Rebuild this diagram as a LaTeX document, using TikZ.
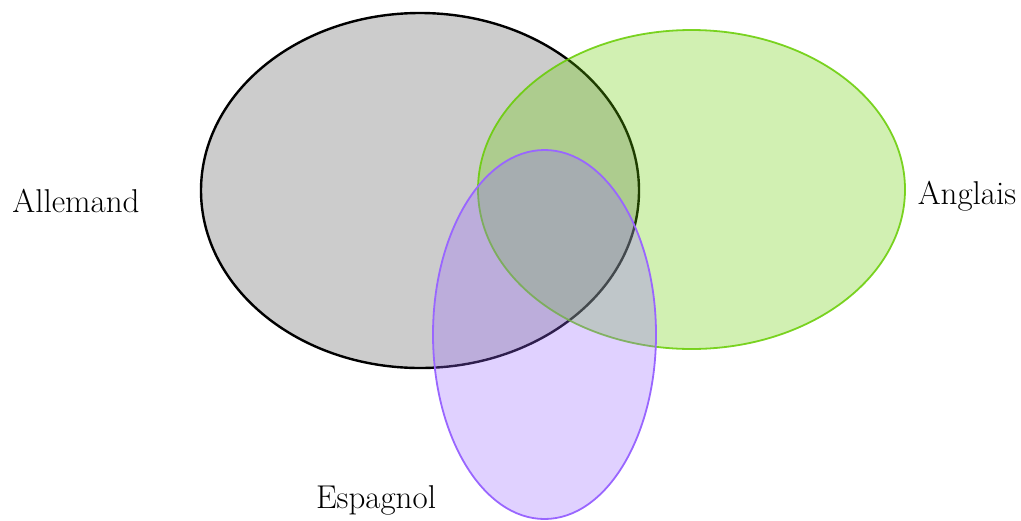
\documentclass[tikz,border=0pt]{standalone}
\usetikzlibrary{shapes.geometric}
\definecolor{setgreen}{HTML}{66CC00}
\definecolor{setpurple}{HTML}{9966FF}
\tikzset{
  setshape/.style={ellipse, inner sep=0pt, outer sep=0pt},
  label/.style={anchor=base, inner sep=0pt, font=\fontsize{16.5}{19}\selectfont},
}
\begin{document}
\begin{tikzpicture}[x=0.5pt,y=-0.5pt]
\useasboundingbox (0,0) rectangle (1021,520);
\node[setshape, draw=black, line width=1.2pt, fill=black!20,
      minimum width=438pt*0.5, minimum height=355pt*0.5] (allemand) at (420,190.5) {};
\node[setshape, draw=setgreen, line width=0.9pt, fill=setgreen, fill opacity=0.3, draw opacity=0.85,
      minimum width=427pt*0.5, minimum height=319pt*0.5] (anglais) at (691.5,189.5) {};
\node[setshape, draw=setpurple, line width=0.9pt, fill=setpurple, fill opacity=0.3,
      minimum width=223pt*0.5, minimum height=369pt*0.5] (espagnol) at (544.5,334.5) {};
\node[label] (tA) at (76,212) {Allemand};
\node[label] (tB) at (967,204) {Anglais};
\node[label] (tC) at (376,508) {Espagnol};
\end{tikzpicture}
\end{document}
